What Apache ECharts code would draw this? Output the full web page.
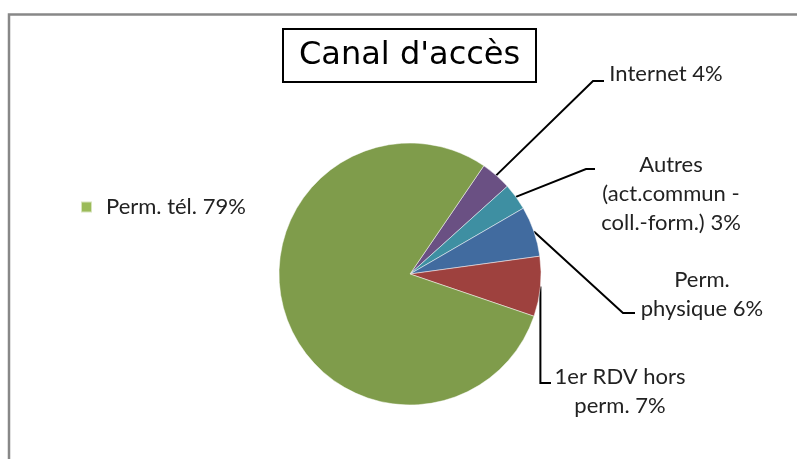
<!DOCTYPE html>
<html>
<head>
<meta charset="utf-8">
<script src="https://cdn.jsdelivr.net/npm/echarts@6/dist/echarts.min.js"></script>
<style>
  html, body { margin: 0; padding: 0; background: #fff; }
  #chart { width: 797px; height: 459px; }
</style>
</head>
<body>
<div id="chart"></div>
<script>
// canaux d'accès, dans l'ordre horaire à partir de la fin de "Perm. tél."
var categories = ['Internet', 'Autres\n(act.commun -\ncoll.-form.)', 'Perm.\nphysique', '1er RDV hors\nperm.', 'Perm. tél.'];
var shares = [3.8, 3.3, 6.2, 7.4, 79.3];
var sliceColors = ['#6a5083', '#3e8fa2', '#416b9f', '#9e413e', '#7f9c4b'];

// position des étiquettes (centre du texte) et coudes des traits de rappel
var labelSpots = [
  { x: 666, y: 74, elbow: [593, 81], end: [604, 81] },
  { x: 671, y: 194, elbow: [586, 169], end: [595, 169] },
  { x: 702, y: 294, elbow: [623, 313], end: [635, 313] },
  { x: 620, y: 391, elbow: null, end: [551, 383] }
];

var total = shares.reduce(function (a, b) { return a + b; }, 0);
function pct(v) { return Math.round(v / total * 100) + '%'; }

var seriesData = categories.map(function (name, i) {
  var d = { name: name, value: shares[i], itemStyle: { color: sliceColors[i] } };
  if (i === 4) {
    d.label = { show: false };
    d.labelLine = { show: false };
  }
  return d;
});

var option = {
  backgroundColor: '#fff',
  animation: false,
  title: {
    text: "Canal d'accès",
    left: 283,
    top: 29,
    padding: [8, 16, 8, 16],
    borderColor: '#000',
    borderWidth: 2,
    textStyle: {
      fontFamily: 'DejaVu Sans',
      fontSize: 32,
      fontWeight: 'normal',
      color: '#000',
      lineHeight: 37
    }
  },
  legend: {
    data: [{ name: 'Perm. tél.', itemStyle: { color: '#9bbb59' } }],
    left: 75,
    top: 188,
    orient: 'vertical',
    icon: 'rect',
    itemWidth: 11,
    itemHeight: 11,
    formatter: function (name) {
      return name + ' ' + pct(shares[categories.indexOf(name)]);
    },
    textStyle: {
      fontFamily: 'Lato',
      fontSize: 22,
      color: '#222',
      lineHeight: 28,
      padding: [0, 0, 0, 9]
    }
  },
  graphic: [{
    type: 'rect',
    shape: { x: 9, y: 14.5, width: 820, height: 480 },
    style: { fill: null, stroke: '#888', lineWidth: 2.5 },
    silent: true
  }],
  series: [{
    type: 'pie',
    center: [410, 274],
    radius: 131,
    startAngle: 55.7,
    clockwise: true,
    data: seriesData,
    itemStyle: { borderColor: 'rgba(255,255,255,0.6)', borderWidth: 0.8 },
    label: {
      show: true,
      position: 'outside',
      formatter: function (p) { return p.name + ' ' + pct(p.value); },
      fontFamily: 'Lato',
      fontSize: 22,
      lineHeight: 29,
      color: '#222',
      align: 'center'
    },
    labelLine: {
      show: true,
      length: 20,
      length2: 10,
      lineStyle: { color: '#000', width: 2 }
    },
    labelLayout: function (p) {
      var spot = labelSpots[p.dataIndex];
      if (!spot) return {};
      var start = p.labelLinePoints ? p.labelLinePoints[0] : null;
      var pts = null;
      if (start) {
        var elbow = spot.elbow || [start[0], spot.end[1]];
        pts = [[start[0], start[1]], elbow, spot.end];
      }
      var out = { x: spot.x, y: spot.y, align: 'center', verticalAlign: 'middle' };
      if (pts) out.labelLinePoints = pts;
      return out;
    }
  }]
};

var myChart = echarts.init(document.getElementById('chart'));
myChart.setOption(option);
</script>
</body>
</html>
